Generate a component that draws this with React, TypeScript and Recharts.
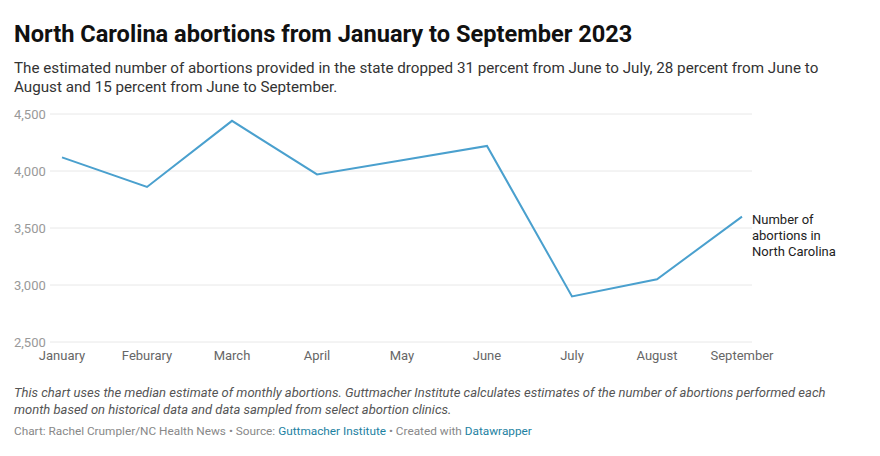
import React from 'react';
import { LineChart, Line, XAxis, YAxis, CartesianGrid } from 'recharts';

// 月ごとの推定中絶件数（中央値）
const months = ['January', 'Feburary', 'March', 'April', 'May', 'June', 'July', 'August', 'September'];
const abortions = [4120, 3860, 4440, 3970, 4095, 4220, 2900, 3050, 3600];
const yTicks = [2500, 3000, 3500, 4000, 4500];
const seriesLabel = ['Number of', 'abortions in', 'North Carolina'];

const data = months.map((month, i) => ({ month, value: abortions[i] }));

const FONT = 'Roboto, "Noto Sans", Arial, sans-serif';
const LINE_COLOR = '#4aa0ce';

function YTick({ y, payload }: any) {
  return (
    <text x={14} y={y} dy="0.35em" textAnchor="start" fill="#999" fontSize={13} fontFamily={FONT}>
      {payload.value.toLocaleString('en-US')}
    </text>
  );
}

function XTick({ x, y, payload }: any) {
  return (
    <text x={x} y={y} dy={10} textAnchor="middle" fill="#666" fontSize={13} fontFamily={FONT}>
      {payload.value}
    </text>
  );
}

// 最後の点の右側に系列名を表示
function EndLabel({ x, y, index }: any) {
  if (index !== abortions.length - 1) return null;
  return (
    <text x={x + 10} y={y} fill="#222" fontSize={13} fontFamily={FONT}>
      {seriesLabel.map((line, i) => (
        <tspan key={line} x={x + 10} dy={i === 0 ? 7 : 16}>
          {line}
        </tspan>
      ))}
    </text>
  );
}

export default function App() {
  return (
    <div
      style={{
        position: 'absolute',
        left: 0,
        top: 0,
        width: 880,
        height: 456,
        background: '#fff',
        fontFamily: FONT,
      }}
    >
      <div
        style={{
          position: 'absolute',
          left: 14,
          top: 19,
          fontSize: 23.6,
          fontWeight: 700,
          color: '#111',
          lineHeight: '30px',
          whiteSpace: 'nowrap',
        }}
      >
        North Carolina abortions from January to September 2023
      </div>
      <div
        style={{
          position: 'absolute',
          left: 14,
          top: 59,
          width: 820,
          fontSize: 15.2,
          color: '#333',
          lineHeight: '18.5px',
        }}
      >
        The estimated number of abortions provided in the state dropped 31 percent from June to July, 28 percent from June to
        August and 15 percent from June to September.
      </div>

      <div style={{ position: 'absolute', left: 0, top: 100 }}>
        <LineChart width={880} height={270} data={data} margin={{ top: 14, right: 128, bottom: 0, left: 0 }}>
          <CartesianGrid vertical={false} stroke="#e8e8e8" />
          <XAxis
            dataKey="month"
            axisLine={false}
            tickLine={false}
            padding={{ left: 12, right: 10 }}
            interval={0}
            height={28}
            tick={<XTick />}
          />
          <YAxis
            domain={[2500, 4500]}
            ticks={yTicks}
            axisLine={false}
            tickLine={false}
            width={50}
            tick={<YTick />}
          />
          <Line
            type="linear"
            dataKey="value"
            stroke={LINE_COLOR}
            strokeWidth={2}
            dot={false}
            activeDot={false}
            isAnimationActive={false}
            label={<EndLabel />}
          />
        </LineChart>
      </div>

      <div
        style={{
          position: 'absolute',
          left: 14,
          top: 385,
          width: 850,
          fontSize: 13,
          fontStyle: 'italic',
          color: '#555',
          lineHeight: '16.5px',
        }}
      >
        This chart uses the median estimate of monthly abortions. Guttmacher Institute calculates estimates of the number of
        abortions performed each month based on historical data and data sampled from select abortion clinics.
      </div>
      <div
        style={{
          position: 'absolute',
          left: 14,
          top: 424,
          fontSize: 11.8,
          color: '#888',
          whiteSpace: 'nowrap',
        }}
      >
        Chart: Rachel Crumpler/NC Health News • Source: <span style={{ color: '#1d81a2' }}>Guttmacher Institute</span> •
        Created with <span style={{ color: '#1d81a2' }}>Datawrapper</span>
      </div>
    </div>
  );
}
